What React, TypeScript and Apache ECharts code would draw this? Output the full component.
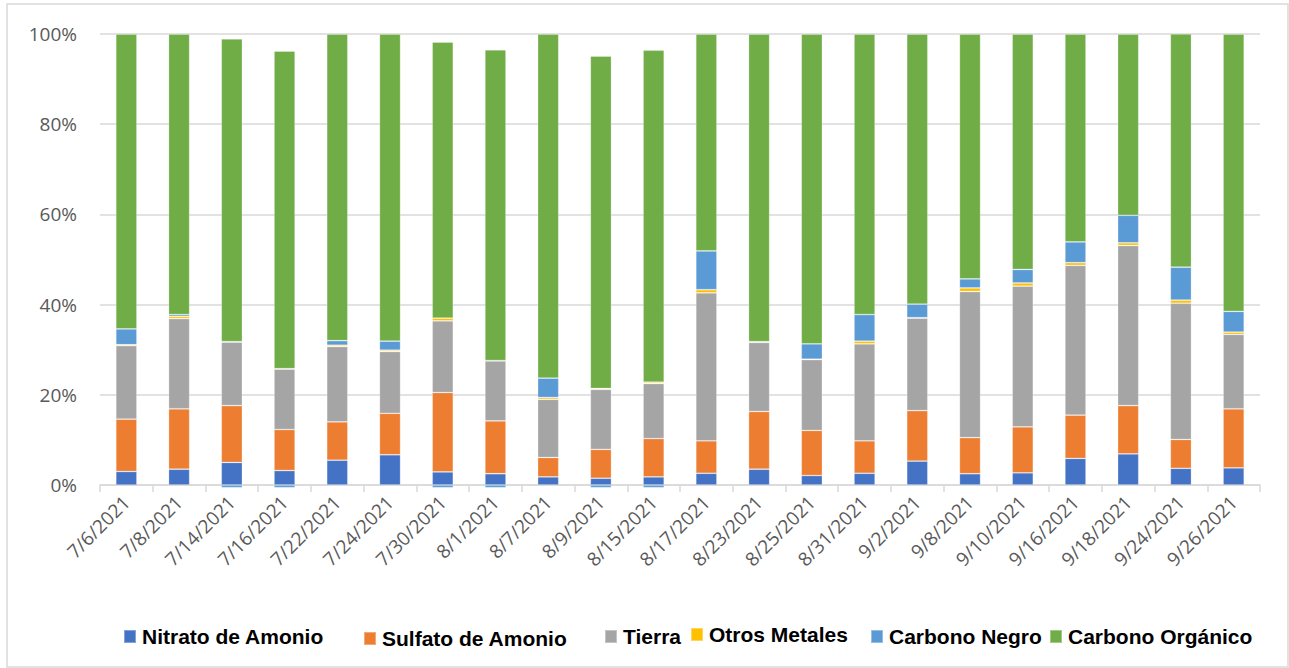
import React, { useEffect, useRef } from "react";
import * as echarts from "echarts";

const categories = [
  "7/6/2021", "7/8/2021", "7/14/2021", "7/16/2021", "7/22/2021", "7/24/2021",
  "7/30/2021", "8/1/2021", "8/7/2021", "8/9/2021", "8/15/2021", "8/17/2021",
  "8/23/2021", "8/25/2021", "8/31/2021", "9/2/2021", "9/8/2021", "9/10/2021",
  "9/16/2021", "9/18/2021", "9/24/2021", "9/26/2021",
];

const nitratoAmonio = [3.0, 3.5, 5.0, 3.2, 5.5, 6.7, 2.9, 2.5, 1.8, 1.5, 1.8, 2.6, 3.5, 2.1, 2.6, 5.3, 2.5, 2.7, 5.9, 6.9, 3.7, 3.8];
const sulfatoAmonio = [11.6, 13.4, 12.6, 9.1, 8.5, 9.2, 17.6, 11.7, 4.3, 6.4, 8.5, 7.2, 12.8, 10.0, 7.2, 11.2, 8.0, 10.2, 9.6, 10.7, 6.4, 13.1];
const tierra = [16.3, 20.0, 14.1, 13.4, 16.7, 13.7, 15.9, 13.3, 12.9, 13.3, 12.2, 32.8, 15.3, 15.7, 21.5, 20.5, 32.4, 31.2, 33.2, 35.5, 30.2, 16.5];
const otrosMetales = [0.2, 0.5, 0.1, 0.1, 0.3, 0.3, 0.6, 0.1, 0.4, 0.2, 0.3, 0.7, 0.1, 0.1, 0.6, 0.1, 0.8, 0.7, 0.6, 0.6, 0.7, 0.5];
const carbonoNegro = [3.5, 0.4, -0.6, -0.6, 1.0, 2.0, -0.6, -0.6, 4.3, -0.6, -0.6, 8.6, 0.1, 3.4, 5.9, 3.0, 2.0, 3.0, 4.6, 6.1, 7.3, 4.6];
const carbonoOrganico = [65.4, 62.2, 67.1, 70.4, 68.0, 68.1, 61.2, 68.9, 76.3, 73.7, 73.6, 48.1, 68.2, 68.7, 62.2, 59.9, 54.3, 52.2, 46.1, 40.2, 51.7, 61.5];

const seriesNames = ["Nitrato de Amonio", "Sulfato de Amonio", "Tierra", "Otros Metales", "Carbono Negro", "Carbono Orgánico"];
const seriesData = [nitratoAmonio, sulfatoAmonio, tierra, otrosMetales, carbonoNegro, carbonoOrganico];
const colors = ["#4472C4", "#ED7D31", "#A5A5A5", "#FFC000", "#5B9BD5", "#70AD47"];
const legendLeft = [123, 363, 604, 690, 870, 1049];
const legendTop = [626, 628, 626, 624, 626, 626];

export default function App() {
  const ref = useRef<HTMLDivElement>(null);
  useEffect(() => {
    if (!ref.current) return;
    const chart = echarts.init(ref.current, undefined, { renderer: "svg" });
    chart.setOption({
      animation: false,
      color: colors,
      grid: { left: 100, right: 29, top: 34, bottom: 183, containLabel: false },
      graphic: [
        {
          type: "rect",
          shape: { x: 7, y: 4, width: 1281, height: 663 },
          style: { fill: "none", stroke: "#d9d9d9", lineWidth: 1.5 },
          silent: true,
        },
      ],
      legend: seriesNames.map((n, i) => ({
        data: [n],
        left: legendLeft[i],
        top: legendTop[i],
        padding: 0,
        itemWidth: 12,
        itemHeight: 13,
        icon: "rect",
        selectedMode: false,
        textStyle: {
          fontSize: 21,
          fontWeight: "bold",
          color: "#000",
          fontFamily: "Liberation Sans, Arial, sans-serif",
          padding: [0, 0, 0, 1],
        },
      })),
      xAxis: {
        type: "category",
        data: categories,
        axisLine: { lineStyle: { color: "#d9d9d9", width: 1.5 } },
        axisTick: { show: true, alignWithLabel: false, length: 7, lineStyle: { color: "#d9d9d9", width: 1.5 } },
        axisLabel: {
          rotate: 45,
          interval: 0,
          margin: 14,
          fontSize: 19,
          color: "#595959",
          fontFamily: "Open Sans, sans-serif",
        },
      },
      yAxis: {
        type: "value",
        min: 0,
        max: 100,
        interval: 20,
        axisLine: { show: false },
        axisTick: { show: false },
        splitLine: { lineStyle: { color: "#d9d9d9", width: 1.5 } },
        axisLabel: {
          formatter: "{value}%",
          margin: 23,
          fontSize: 19,
          color: "#595959",
          fontFamily: "Open Sans, sans-serif",
        },
      },
      series: seriesNames.map((n, i) => ({
        name: n,
        type: "bar",
        stack: "total",
        barWidth: "40%",
        clip: false,
        data: seriesData[i],
        itemStyle: { color: colors[i], borderColor: "rgba(255,255,255,0.35)", borderWidth: 0.75 },
      })),
    });
    return () => chart.dispose();
  }, []);
  return (
    <div
      ref={ref}
      style={{ position: "absolute", left: 0, top: 0, width: 1289, height: 668, background: "#fff" }}
    />
  );
}
